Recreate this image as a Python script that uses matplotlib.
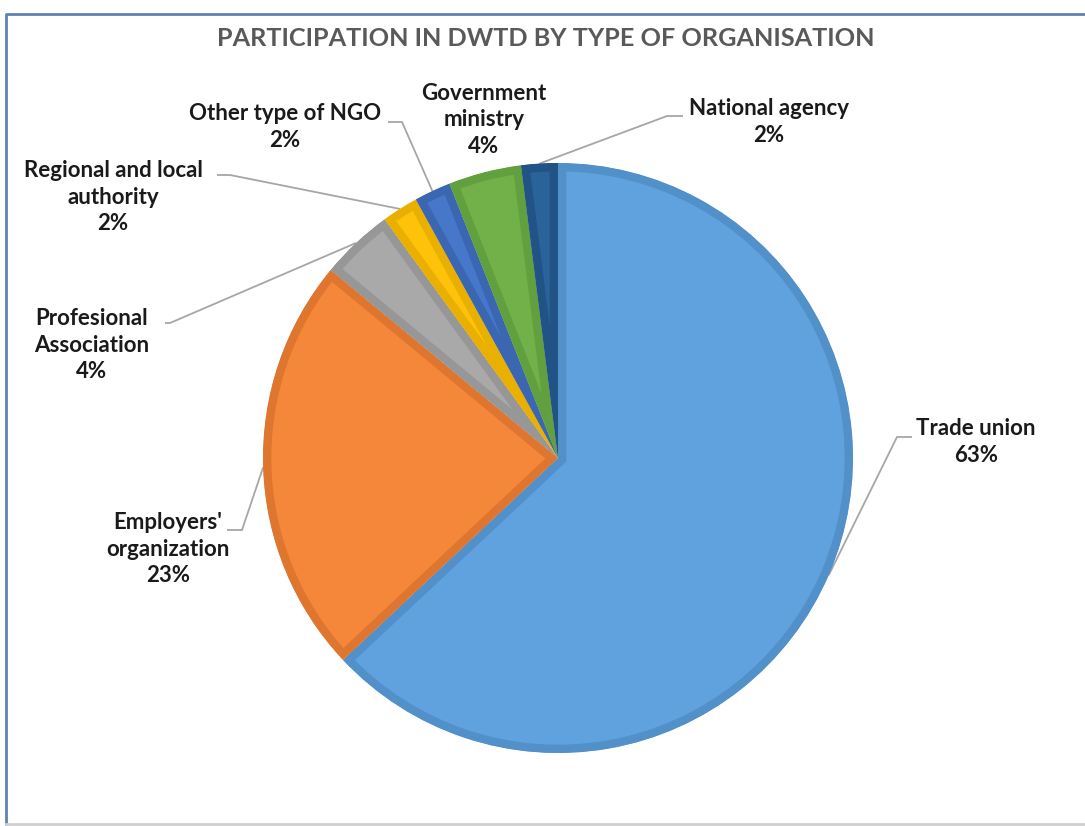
import numpy as np
import matplotlib.pyplot as plt

# participation shares by organisation type
labels = ['Trade union', "Employers'\norganization", 'Profesional\nAssociation',
          'Regional and local\nauthority', 'Other type of NGO',
          'Government\nministry', 'National agency']
values = [63, 23, 4, 2, 2, 4, 2]

fills = ['#60A2DD', '#F4873A', '#A9A9A9', '#FFC20A', '#4677C9', '#72B04A', '#2A6399']
bands = ['#5290C9', '#DE7630', '#979797', '#EAB000', '#3B66B2', '#62A03F', '#215386']

# label centre, leader elbow (x, y) and end of the short horizontal stub
label_pos = [
    ((976, 442), (897, 437), 912),
    ((168, 549), (242, 530), 227),
    ((92, 345), (170, 323), 165),
    ((113, 197), (230, 175), 217),
    ((285, 127), (402, 122), 388),
    ((484, 120), None, None),
    ((769, 122), (667, 116), 683),
]

W, H = 1085, 826
cx, cy, R = 558, 458, 295

plt.rcParams['font.family'] = ['Lato', 'DejaVu Sans']

fig = plt.figure(figsize=(W / 100, H / 100), dpi=100)
ax = fig.add_axes([0, 0, 1, 1])

# y axis runs downward, so start at -90 going counterclockwise = clockwise from 12 o'clock
wedges, _ = ax.pie(values, colors=fills, startangle=-90, counterclock=True,
                   center=(cx, cy), radius=R,
                   wedgeprops=dict(linewidth=0))
ax.set_xlim(0, W)
ax.set_ylim(H, 0)
ax.set_aspect('equal')
ax.axis('off')

# darker band inside each slice: thick edge clipped to the slice itself
for w, band in zip(wedges, bands):
    w.set_edgecolor(band)
    w.set_linewidth(12)
    w.set_joinstyle('miter')
    w.set_clip_path(w)
    w.set_clip_on(True)

for w, lab, val, (tpos, elbow, stub) in zip(wedges, labels, values, label_pos):
    ax.text(tpos[0], tpos[1], f'{lab}\n{val}%', ha='center', va='center',
            fontsize=16, fontweight='bold', color='#1a1a1a', linespacing=1.3)
    if elbow is None:
        continue
    mid = np.deg2rad((w.theta1 + w.theta2) / 2)
    ex = cx + R * np.cos(mid)
    ey = cy + R * np.sin(mid)
    ax.plot([stub, elbow[0], ex], [elbow[1], elbow[1], ey],
            color='#A6A6A6', lw=1.3, solid_capstyle='butt', zorder=0.5)

fig.text(546 / W, 1 - 39 / H, 'PARTICIPATION IN DWTD BY TYPE OF ORGANISATION',
         ha='center', va='center', fontsize=18.2, fontweight='bold', color='#595959')

# chart frame
ax.plot([6, 6, W + 5], [H - 2, 14, 14], color='#5E82B4', lw=2, clip_on=False)
ax.plot([6, W + 5], [H - 2, H - 2], color='#D0D0D0', lw=2, clip_on=False)

fig.savefig('out.png', dpi=100, facecolor='white')
